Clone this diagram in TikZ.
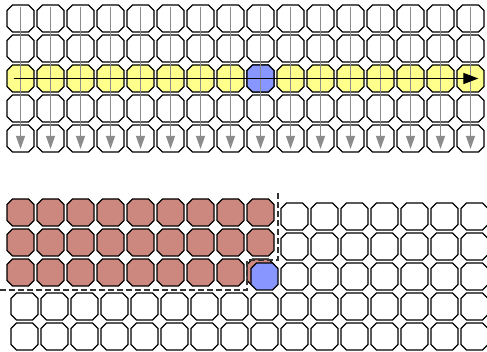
\documentclass[tikz,border=0pt]{standalone}
\usetikzlibrary{arrows.meta}
\definecolor{cellyellow}{RGB}{255,255,140}
\definecolor{cellblue}{RGB}{136,150,255}
\definecolor{cellbrown}{RGB}{204,136,126}
\tikzset{
  cell/.style={rectangle, inner sep=0pt, minimum width=28.4pt, minimum height=28.4pt,
    path picture={\filldraw[fill=#1, draw=black, line width=1.3pt,
      shift={(path picture bounding box.center)}]
      (-13.5,-8) -- (-13.5,8) -- (-8,13.5) -- (8,13.5) -- (13.5,8)
      -- (13.5,-8) -- (8,-13.5) -- (-8,-13.5) -- cycle;}},
  cell/.default=white,
  rowcell/.style={cell=cellyellow},
  pivot/.style={cell=cellblue},
  donecell/.style={cell=cellbrown},
  colarrow/.style={draw=black!45, line width=1.1pt,
    -{Triangle[length=13pt,width=9pt]}, shorten <=3pt, shorten >=4pt},
  rowarrow/.style={draw=black, line width=1.1pt,
    -{Triangle[length=15pt,width=11pt]}, shorten <=7.5pt, shorten >=6.5pt},
  border/.style={draw=black!80, line width=1.1pt, dash pattern=on 6pt off 3pt}
}
\begin{document}
\begin{tikzpicture}[x=1pt,y=-1pt]
	\useasboundingbox (0,0) rectangle (487,352);
	% upper grid
	\foreach \r in {1,2,4,5}
		\foreach \c in {1,...,16}
			\node[cell] (t-\r-\c) at (20.5+30*\c-30, 18.5+30*\r-30) {};
	\foreach \c in {1,...,16}
		\node[rowcell] (t-3-\c) at (20.5+30*\c-30, 78.5) {};
	\node[pivot] (t-3-9) at (260.5, 78.5) {};
	\foreach \c in {1,...,16}
		\draw[colarrow] (t-1-\c.north) -- (t-5-\c.south);
	\draw[rowarrow] (t-3-1.west) -- (t-3-16.east);
	% lower grid
	\foreach \r in {1,2,3}
		\foreach \c in {1,...,9}
			\node[donecell] (d-\r-\c) at (20.5+30*\c-30, 212.5+30*\r-30) {};
	\foreach \r in {1,2,3}
		\foreach \c in {10,...,16}
			\node[cell] (b-\r-\c) at (24.5+30*\c-30, 216.5+30*\r-30) {};
	\node[pivot] (b-3-9) at (264.5, 276.5) {};
	\foreach \r in {4,5}
		\foreach \c in {1,...,16}
			\node[cell] (b-\r-\c) at (24.5+30*\c-30, 216.5+30*\r-30) {};
	\draw[border] (0,290) -- (247,290) -- (247,260) -- (278,260) -- (278,193);
\end{tikzpicture}
\end{document}
